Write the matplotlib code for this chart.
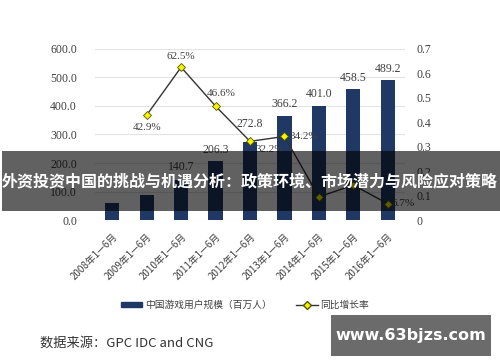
import matplotlib
matplotlib.use("Agg")
import matplotlib.pyplot as plt
import numpy as np
from matplotlib.patches import Rectangle

plt.rcParams["font.family"] = ["Noto Sans CJK SC", "DejaVu Sans"]

periods = ["2008年1—6月", "2009年1—6月", "2010年1—6月", "2011年1—6月", "2012年1—6月",
           "2013年1—6月", "2014年1—6月", "2015年1—6月", "2016年1—6月"]
users = [60.6, 86.6, 140.7, 206.3, 272.8, 366.2, 401.0, 458.5, 489.2]
# value labels that remain visible in the picture (others sit under the banner)
user_labels = ["", "", "140.7", "206.3", "272.8", "366.2", "401.0", "458.5", "489.2"]
user_label_lift = [4, 4, 5, 4, 9, 4, 4, 4, 4]
growth = [np.nan, 0.429, 0.625, 0.466, 0.322, 0.342, 0.095, 0.143, 0.067]
growth_labels = ["", "42.9%", "62.5%", "46.6%", "32.2%", "34.2%", "", "", "6.7%"]
# label offsets (points) relative to each growth marker
growth_offsets = [(0, 0), (0, -9), (0, 8), (4, 9), (14, -6), (14, 0), (0, 0), (0, 0), (11, 0)]

left_ticks = [0, 100, 200, 300, 400, 500, 600]
right_ticks = [0, 0.1, 0.2, 0.3, 0.4, 0.5, 0.6, 0.7]

bar_color = "#1f3864"
text_color = "#404040"
num_font = ["Liberation Serif", "Noto Sans CJK SC"]

fig = plt.figure(figsize=(5, 3.62), dpi=100)
ax = fig.add_axes([0.19, 0.392, 0.62, 0.473])
ax2 = ax.twinx()

x = np.arange(len(periods))
ax.bar(x, users, width=0.41, color=bar_color, zorder=2)
for xi, v, lab, lift in zip(x, users, user_labels, user_label_lift):
    if lab:
        ax.annotate(lab, (xi, v), xytext=(0, lift), textcoords="offset points",
                    ha="center", va="bottom", fontsize=8.5, color=text_color, family=num_font)

ax.set_xlim(-0.5, len(periods) - 0.5)
ax.set_ylim(0, 600)
ax.set_yticks(left_ticks, [f"{t:.1f}" for t in left_ticks], fontsize=8.5,
              color=text_color, family=num_font)
ax.grid(axis="y", color="#e3e3e3", linewidth=0.8, zorder=0)
ax.set_axisbelow(True)
for s in ax.spines.values():
    s.set_visible(False)
for s in ax2.spines.values():
    s.set_visible(False)
ax.tick_params(axis="y", length=0, pad=13)
ax.set_xticks(x, periods, rotation=45, ha="right", rotation_mode="anchor",
              fontsize=7, color=text_color)
ax.tick_params(axis="x", length=0, pad=8)

ax2.plot(x, growth, color="#333333", linewidth=1.0, marker="D", markersize=4,
         markerfacecolor="#f5f500", markeredgecolor="#555500", markeredgewidth=0.6, zorder=3)
for xi, g, lab, off in zip(x, growth, growth_labels, growth_offsets):
    if lab:
        ax2.annotate(lab, (xi, g), xytext=off, textcoords="offset points",
                     ha="center", va="center", fontsize=8, color=text_color, family=num_font)
ax2.set_ylim(0, 0.7)
ax2.set_yticks(right_ticks, ["0" if t == 0 else f"{t:.1f}" for t in right_ticks],
               fontsize=8.5, color=text_color, family=num_font)
ax2.tick_params(length=0, pad=8)

handles = [Rectangle((0, 0), 1, 1, color=bar_color),
           plt.Line2D([], [], color="#333333", linewidth=1.0, marker="D", markersize=4,
                      markerfacecolor="#f5f500", markeredgecolor="#555500")]
fig.legend(handles, ["中国游戏用户规模（百万人）", "同比增长率"], loc="center",
           bbox_to_anchor=(0.49, 0.157), ncol=2, frameon=False, fontsize=7,
           handlelength=2.2, handleheight=0.5, columnspacing=2.5, handletextpad=0.3,
           labelcolor=text_color)

fig.text(0.08, 0.052, "数据来源：GPC IDC and CNG", fontsize=9.5, color="#333333",
         va="center", ha="left")

# overlay banner with title
fig.patches.append(Rectangle((0.004, 0.417), 0.996, 0.166, transform=fig.transFigure,
                             facecolor="black", alpha=0.62, zorder=10))
fig.text(0.5, 0.5, "外资投资中国的挑战与机遇分析：政策环境、市场潜力与风险应对策略",
         fontsize=11.5, fontweight="bold", color="white", ha="center", va="center", zorder=11)

# watermark box
fig.patches.append(Rectangle((0.662, 0.017), 0.32, 0.113, transform=fig.transFigure,
                             facecolor="#6b6b6b", zorder=10))
fig.text(0.822, 0.073, "www.63bjzs.com", fontsize=11.5, fontweight="bold", color="white",
         ha="center", va="center", family="DejaVu Sans", zorder=11)

fig.savefig("out.png", dpi=100)
